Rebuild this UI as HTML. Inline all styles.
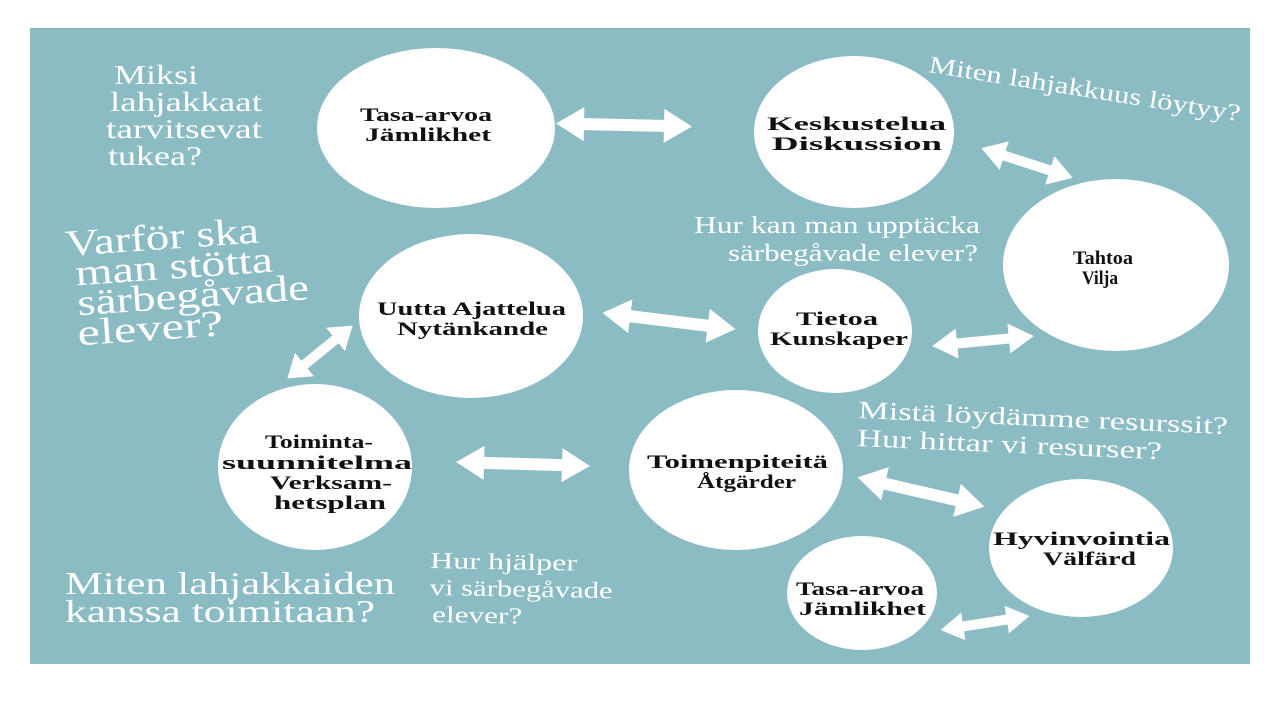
<!DOCTYPE html>
<html><head><meta charset="utf-8"><style>
html,body{margin:0;padding:0;background:#fff;}
svg{display:block}
.q{fill:#fff;font-family:"Liberation Serif",serif;}
.b{fill:#111;font-family:"Liberation Serif",serif;font-weight:bold;font-size:19px;}
</style></head><body>
<svg width="1280" height="720" viewBox="0 0 1280 720" xmlns="http://www.w3.org/2000/svg">
<rect x="0" y="0" width="1280" height="720" fill="#fff"/>
<rect x="30" y="28" width="1220" height="636" fill="#8bbcc3"/>
<g fill="#fff">
<ellipse cx="436" cy="128" rx="119" ry="80"/>
<ellipse cx="854" cy="132" rx="100" ry="76"/>
<ellipse cx="1116" cy="265" rx="113" ry="86"/>
<ellipse cx="471" cy="316" rx="112" ry="82"/>
<ellipse cx="835" cy="331" rx="77" ry="62"/>
<ellipse cx="315" cy="467" rx="97" ry="83"/>
<ellipse cx="736" cy="470" rx="107" ry="80"/>
<ellipse cx="1081" cy="548" rx="92" ry="69"/>
<ellipse cx="862" cy="593" rx="75" ry="57"/>
</g>
<g fill="#fff">
<g transform="translate(624,125) rotate(1.3)"><polygon points="-68,0 -40,-17 -40,-6 40,-6 40,-17 68,0 40,17 40,6 -40,6 -40,17"/></g>
<g transform="translate(1027,163) rotate(18)"><polygon points="-48,0 -24,-15 -24,-5 24,-5 24,-15 48,0 24,15 24,5 -24,5 -24,15"/></g>
<g transform="translate(669,321) rotate(7)"><polygon points="-67,0 -39,-17 -39,-6 39,-6 39,-17 67,0 39,17 39,6 -39,6 -39,17"/></g>
<g transform="translate(983,341) rotate(-5.6)"><polygon points="-51,0 -26,-15 -26,-5 26,-5 26,-15 51,0 26,15 26,5 -26,5 -26,15"/></g>
<g transform="translate(320,352) rotate(-39)"><polygon points="-42,0 -20,-15 -20,-5 20,-5 20,-15 42,0 20,15 20,5 -20,5 -20,15"/></g>
<g transform="translate(523,464) rotate(1.7)"><polygon points="-67,0 -39,-17 -39,-6 39,-6 39,-17 67,0 39,17 39,6 -39,6 -39,17"/></g>
<g transform="translate(921,492) rotate(13)"><polygon points="-65,0 -37,-17 -37,-6 37,-6 37,-17 65,0 37,17 37,6 -37,6 -37,17"/></g>
<g transform="translate(985,623) rotate(-9)"><polygon points="-45,0 -22,-14 -22,-5 22,-5 22,-14 45,0 22,14 22,5 -22,5 -22,14"/></g>
</g>
<g class="b" lengthAdjust="spacingAndGlyphs">
<text x="360" y="121" textLength="132" lengthAdjust="spacingAndGlyphs">Tasa-arvoa</text><text x="365" y="141" textLength="126" lengthAdjust="spacingAndGlyphs">Jämlikhet</text>
<text x="767" y="130" textLength="179" lengthAdjust="spacingAndGlyphs">Keskustelua</text><text x="772" y="150" textLength="170" lengthAdjust="spacingAndGlyphs">Diskussion</text>
<text x="1073" y="264" textLength="60" lengthAdjust="spacingAndGlyphs">Tahtoa</text><text x="1082" y="284" textLength="36" lengthAdjust="spacingAndGlyphs">Vilja</text>
<text x="377" y="315" textLength="189" lengthAdjust="spacingAndGlyphs">Uutta Ajattelua</text><text x="397" y="335" textLength="151" lengthAdjust="spacingAndGlyphs">Nytänkande</text>
<text x="796" y="325" textLength="82" lengthAdjust="spacingAndGlyphs">Tietoa</text><text x="770" y="345" textLength="138" lengthAdjust="spacingAndGlyphs">Kunskaper</text>
<text x="265" y="448" textLength="108" lengthAdjust="spacingAndGlyphs">Toiminta-</text><text x="222" y="469" textLength="190" lengthAdjust="spacingAndGlyphs">suunnitelma</text><text x="270" y="489" textLength="122" lengthAdjust="spacingAndGlyphs">Verksam-</text><text x="274" y="509" textLength="112" lengthAdjust="spacingAndGlyphs">hetsplan</text>
<text x="647" y="468" textLength="181" lengthAdjust="spacingAndGlyphs">Toimenpiteitä</text><text x="697" y="488" textLength="99" lengthAdjust="spacingAndGlyphs">Åtgärder</text>
<text x="993" y="545" textLength="177" lengthAdjust="spacingAndGlyphs">Hyvinvointia</text><text x="1043" y="565" textLength="93" lengthAdjust="spacingAndGlyphs">Välfärd</text>
<text x="796" y="595" textLength="128" lengthAdjust="spacingAndGlyphs">Tasa-arvoa</text><text x="799" y="615" textLength="127" lengthAdjust="spacingAndGlyphs">Jämlikhet</text>
</g>

<g class="q" font-size="27">
<text x="114" y="84" textLength="84" lengthAdjust="spacingAndGlyphs">Miksi</text><text x="110" y="111" textLength="152" lengthAdjust="spacingAndGlyphs">lahjakkaat</text><text x="106" y="138" textLength="156" lengthAdjust="spacingAndGlyphs">tarvitsevat</text><text x="108" y="165" textLength="94" lengthAdjust="spacingAndGlyphs">tukea?</text>
</g>
<text class="q" font-size="24" transform="translate(928,72) rotate(9)" textLength="315" lengthAdjust="spacingAndGlyphs">Miten lahjakkuus löytyy?</text>
<text class="q" font-size="24" x="694" y="233" textLength="286" lengthAdjust="spacingAndGlyphs">Hur kan man upptäcka</text>
<text class="q" font-size="24" x="728" y="261" textLength="250" lengthAdjust="spacingAndGlyphs">särbegåvade elever?</text>
<g class="q" font-size="37" transform="translate(66,256) rotate(-4)">
<text x="0" y="0" textLength="194" lengthAdjust="spacingAndGlyphs">Varför ska</text><text x="8" y="30" textLength="198" lengthAdjust="spacingAndGlyphs">man stötta</text><text x="8" y="60" textLength="232" lengthAdjust="spacingAndGlyphs">särbegåvade</text><text x="6" y="90" textLength="146" lengthAdjust="spacingAndGlyphs">elever?</text>
</g>
<g class="q" font-size="25" transform="translate(858,418) rotate(2.5)">
<text x="0" y="0" textLength="370" lengthAdjust="spacingAndGlyphs">Mistä löydämme resurssit?</text><text x="0" y="28" textLength="305" lengthAdjust="spacingAndGlyphs">Hur hittar vi resurser?</text>
</g>
<g class="q" font-size="32">
<text x="65" y="594" textLength="330" lengthAdjust="spacingAndGlyphs">Miten lahjakkaiden</text><text x="65" y="622" textLength="310" lengthAdjust="spacingAndGlyphs">kanssa toimitaan?</text>
</g>
<g class="q" font-size="23" transform="translate(430,568) rotate(1)">
<text x="0" y="0" textLength="147" lengthAdjust="spacingAndGlyphs">Hur hjälper</text><text x="0" y="27" textLength="183" lengthAdjust="spacingAndGlyphs">vi särbegåvade</text><text x="3" y="54" textLength="90" lengthAdjust="spacingAndGlyphs">elever?</text>
</g>
</svg>
</body></html>
